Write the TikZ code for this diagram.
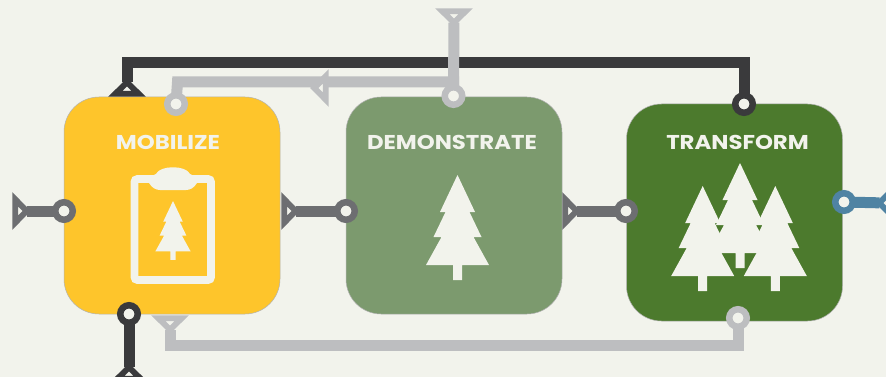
\documentclass[tikz,border=0pt]{standalone}
\usepackage{fontspec}
\setmainfont{Poppins}[FakeStretch=1.14]
\usetikzlibrary{shapes.geometric}

\definecolor{paper}{HTML}{F2F3EC}
\definecolor{goldbox}{HTML}{FEC52B}
\definecolor{sagebox}{HTML}{7C9A6E}
\definecolor{forestbox}{HTML}{4C7A2D}
\definecolor{darkline}{HTML}{3A3A3C}
\definecolor{midline}{HTML}{6D6E71}
\definecolor{paleline}{HTML}{BDBEC0}
\definecolor{blueline}{HTML}{4F83A3}

\tikzset{
  stagebox/.style={draw=black!30, line width=0.5pt, rounded corners=35pt, minimum width=216pt, minimum height=217pt, inner sep=0pt, outer sep=0pt},
  stagelabel/.style={text=paper, inner sep=0pt, font=\fontsize{20}{20}\selectfont\bfseries},
  port/.style={circle, draw=#1, fill=paper, line width=6.5pt, minimum size=17.5pt, inner sep=0pt, outer sep=0pt},
  tipmark/.style={isosceles triangle, isosceles triangle apex angle=90, isosceles triangle stretches, draw=#1, fill=paper, line width=5.8pt, line join=miter, minimum width=23.5pt, minimum height=11.5pt, inner sep=0pt, outer sep=0pt},
  link/.style={draw=#1, line width=11pt, line join=miter},
  pics/fir/.style={code={
    \fill[paper] (0,0) -- (17.5,37) -- (12,37) -- (24,62) -- (16,62) -- (31.5,90) -- (4.5,90) -- (4.5,105) -- (-4.5,105) -- (-4.5,90) -- (-31.5,90) -- (-16,62) -- (-24,62) -- (-12,37) -- (-17.5,37) -- cycle;
  }}
}

\begin{document}
\begin{tikzpicture}[x=1pt, y=-1pt]
  \clip (0,0) rectangle (886,377);
  \fill[paper] (0,0) rectangle (886,377);

  \node[stagebox, fill=goldbox] (mobilize) at (172,205.5) {};
  \node[stagebox, fill=sagebox] (demonstrate) at (454,205.5) {};
  \node[stagebox, fill=forestbox] (transform) at (734.5,212.5) {};

  \node[stagelabel] (mobilizelabel) at (168,142) {MOBILIZE};
  \node[stagelabel] (demonstratelabel) at (452,142) {DEMONSTRATE};
  \node[stagelabel] (transformlabel) at (737.5,142) {TRANSFORM};

  \node[port=midline] (mobilizein) at (64,211) {};
  \node[port=midline] (demonstratein) at (346,211) {};
  \node[port=midline] (transformin) at (626,211) {};
  \node[port=darkline] (transformtop) at (744,104) {};
  \node[port=darkline] (mobilizebottom) at (129,314) {};
  \node[port=paleline] (demonstratetop) at (453.5,96) {};
  \node[port=paleline] (mobilizetop) at (176,104) {};
  \node[port=paleline] (transformbottom) at (738,318) {};
  \node[port=blueline] (transformout) at (844,202) {};

  \node[tipmark=midline] (intip) at (20,211) {};
  \node[tipmark=midline] (mobilizetip) at (289,211) {};
  \node[tipmark=midline] (demonstratetip) at (570,211) {};
  \node[tipmark=darkline, rotate=90] (darktop) at (127,89) {};
  \node[tipmark=darkline, rotate=90] (darkbottom) at (129,374) {};
  \node[tipmark=paleline, rotate=-90] (paletop) at (454,16) {};
  \node[tipmark=paleline, rotate=-90] (palebottom) at (170,323) {};
  \node[tipmark=blueline, rotate=180] (bluetip) at (886,203) {};

  \coordinate (darkleft) at (127,62.5);
  \coordinate (darkright) at (744,62.5);
  \coordinate (paleright) at (453.5,82);
  \coordinate (paleleft) at (177.5,82);
  \coordinate (lowleft) at (170,345);
  \coordinate (lowright) at (738,345);

  \draw[link=midline] (intip) -- (mobilizein);
  \draw[link=midline] (mobilizetip) -- (demonstratein);
  \draw[link=midline] (demonstratetip) -- (transformin);
  \draw[link=darkline] (transformtop) -- (darkright) -- (darkleft) -- (darktop);
  \draw[link=darkline] (mobilizebottom) -- (darkbottom);
  \draw[link=paleline] (demonstratetop) -- (paletop);
  \draw[link=paleline] (demonstratetop) -- (paleright) -- (paleleft) -- (mobilizetop);
  \draw[link=paleline] (transformbottom) -- (lowright) -- (lowleft) -- (palebottom);
  \draw[link=blueline] (transformout) -- (bluetip);
  \node[tipmark=paleline, rotate=180] (palereturn) at (321,88) {};

  \draw[paper, line width=7.8pt, rounded corners=3pt] (134.5,179) rectangle (211,280);
  \fill[paper] (149,183) .. controls (149,176) and (152,176) .. (156,174) .. controls (160,165) and (186,165) .. (190,174) .. controls (194,176) and (197,176) .. (197,183) .. controls (194,188) and (190,190) .. (186,190) -- (160,190) .. controls (156,190) and (152,188) .. (149,183) -- cycle;
  \pic[scale=0.56] at (173,201) {fir};

  \pic at (457.5,175) {fir};

  \pic at (740,163) {fir};
  \pic at (702.7,186) {fir};
  \pic at (775.3,186) {fir};
\end{tikzpicture}
\end{document}
